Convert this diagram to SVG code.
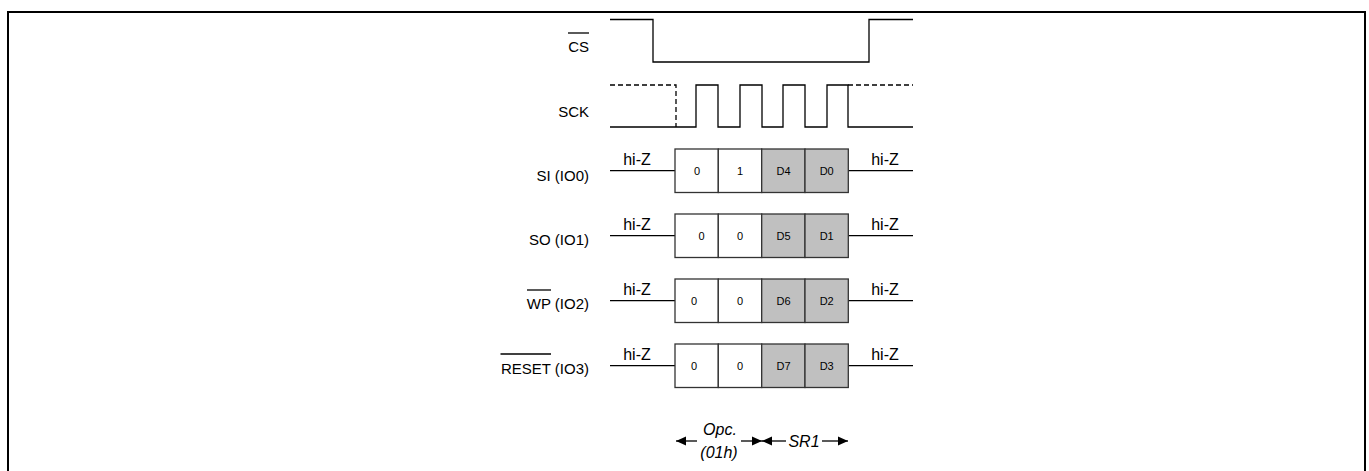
<svg xmlns="http://www.w3.org/2000/svg" width="1369" height="471" viewBox="0 0 1369 471">
<style>
.lbl{font-family:"Liberation Sans",Arial,sans-serif;font-size:15px;fill:#000;text-anchor:end}
.hz{font-family:"Liberation Sans",Arial,sans-serif;font-size:16px;fill:#000;text-anchor:middle}
.bit{font-family:"Liberation Sans",Arial,sans-serif;font-size:11px;fill:#000;text-anchor:middle}
.it{font-family:"Liberation Sans",Arial,sans-serif;font-size:16px;font-style:italic;fill:#000;text-anchor:middle}
.w{fill:none;stroke:#000;stroke-width:1.3}
.d{fill:none;stroke:#000;stroke-width:1.3;stroke-dasharray:5,3}
.c0{fill:#fff;stroke:#333;stroke-width:1.3}
.c1{fill:#c0c0c0;stroke:#333;stroke-width:1.3}
.ol{stroke:#000;stroke-width:1.3}
</style>
<defs>
<marker id="ah" markerWidth="10" markerHeight="10" refX="10" refY="5" orient="auto" markerUnits="userSpaceOnUse">
<path d="M0,0.5 L10,5 L0,9.5 Z" fill="#000"/>
</marker>
</defs>
<rect x="8" y="12" width="1357" height="470" fill="none" stroke="#000" stroke-width="2"/>

<g id="cs">
<text class="lbl" x="589" y="51.5">CS</text>
<line class="ol" x1="568" y1="33" x2="589" y2="33"/>
<path class="w" d="M610,19.5 H653 V62 H869 V19.5 H913"/>
</g>

<g id="sck">
<text class="lbl" x="589" y="116.5">SCK</text>
<path class="d" d="M610,85 H676 V127"/>
<path class="d" d="M848,85 H913"/>
<path class="w" d="M610,127 H696 V85 H718 V127 H740 V85 H762 V127 H783 V85 H805 V127 H827 V85 H848 V127 H913"/>
</g>

<g id="si">
<text class="lbl" x="589" y="180.5">SI (IO0)</text>
<path class="w" d="M610,170.7 H675 M848,170.7 H913"/>
<text class="hz" x="637" y="165">hi-Z</text>
<text class="hz" x="885" y="165">hi-Z</text>
<rect class="c0" x="675" y="149" width="43.3" height="43.5"/>
<rect class="c0" x="718.3" y="149" width="43.4" height="43.5"/>
<rect class="c1" x="761.7" y="149" width="43.3" height="43.5"/>
<rect class="c1" x="805" y="149" width="43.3" height="43.5"/>
<text class="bit" x="697" y="175">0</text>
<text class="bit" x="740" y="175">1</text>
<text class="bit" x="783.5" y="175">D4</text>
<text class="bit" x="826.7" y="175">D0</text>
</g>

<g id="so">
<text class="lbl" x="589" y="245">SO (IO1)</text>
<path class="w" d="M610,235.7 H675 M848,235.7 H913"/>
<text class="hz" x="637" y="230">hi-Z</text>
<text class="hz" x="885" y="230">hi-Z</text>
<rect class="c0" x="675" y="214" width="43.3" height="43.5"/>
<rect class="c0" x="718.3" y="214" width="43.4" height="43.5"/>
<rect class="c1" x="761.7" y="214" width="43.3" height="43.5"/>
<rect class="c1" x="805" y="214" width="43.3" height="43.5"/>
<text class="bit" x="701.5" y="240">0</text>
<text class="bit" x="740" y="240">0</text>
<text class="bit" x="783.5" y="240">D5</text>
<text class="bit" x="826.7" y="240">D1</text>
</g>

<g id="wp">
<text class="lbl" x="589" y="309">WP (IO2)</text>
<line class="ol" x1="527" y1="290" x2="551" y2="290"/>
<path class="w" d="M610,300.7 H675 M848,300.7 H913"/>
<text class="hz" x="637" y="295">hi-Z</text>
<text class="hz" x="885" y="295">hi-Z</text>
<rect class="c0" x="675" y="279" width="43.3" height="43.5"/>
<rect class="c0" x="718.3" y="279" width="43.4" height="43.5"/>
<rect class="c1" x="761.7" y="279" width="43.3" height="43.5"/>
<rect class="c1" x="805" y="279" width="43.3" height="43.5"/>
<text class="bit" x="694" y="305">0</text>
<text class="bit" x="740" y="305">0</text>
<text class="bit" x="783.5" y="305">D6</text>
<text class="bit" x="826.7" y="305">D2</text>
</g>

<g id="reset">
<text class="lbl" x="589" y="373.5">RESET (IO3)</text>
<line class="ol" x1="500.5" y1="354" x2="551" y2="354"/>
<path class="w" d="M610,365.7 H675 M848,365.7 H913"/>
<text class="hz" x="637" y="360">hi-Z</text>
<text class="hz" x="885" y="360">hi-Z</text>
<rect class="c0" x="675" y="344" width="43.3" height="43.5"/>
<rect class="c0" x="718.3" y="344" width="43.4" height="43.5"/>
<rect class="c1" x="761.7" y="344" width="43.3" height="43.5"/>
<rect class="c1" x="805" y="344" width="43.3" height="43.5"/>
<text class="bit" x="694" y="370">0</text>
<text class="bit" x="740" y="370">0</text>
<text class="bit" x="783.5" y="370">D7</text>
<text class="bit" x="826.7" y="370">D3</text>
</g>

<g id="connectors">
<line class="w" x1="697" y1="441" x2="676" y2="441" marker-end="url(#ah)"/>
<line class="w" x1="741" y1="441" x2="762" y2="441" marker-end="url(#ah)"/>
<line class="w" x1="786" y1="441" x2="762" y2="441" marker-end="url(#ah)"/>
<line class="w" x1="822" y1="441" x2="848" y2="441" marker-end="url(#ah)"/>
</g>
<text class="it" x="720" y="435">Opc.</text>
<text class="it" x="719" y="458">(01h)</text>
<text class="it" x="804" y="446.5">SR1</text>
</svg>
